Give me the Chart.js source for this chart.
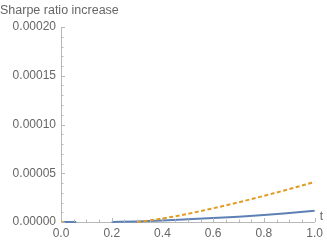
<!DOCTYPE html>
<html>
<head>
<meta charset="utf-8">
<script src="https://cdn.jsdelivr.net/npm/chart.js@4"></script>
<style>
  html, body { margin: 0; padding: 0; background: #fff; }
  #wrap { width: 327px; height: 245px; }
</style>
</head>
<body>
<div id="wrap"><canvas id="chart"></canvas></div>
<script>
const titleText = 'Sharpe ratio increase';
const xLabelText = 't';

const xTicks = [0, 0.2, 0.4, 0.6, 0.8, 1.0];
const yTicks = [0, 0.00005, 0.0001, 0.00015, 0.0002];

// blue solid series (null = gap in the curve)
const blueT = [0, 0.06, 0.13, 0.2, 0.3, 0.4, 0.5, 0.6, 0.7, 0.8, 0.9, 1.0];
const blueY = [0, 0, null, 0, 0.0000006, 0.0000015, 0.0000027, 0.000004, 0.0000055, 0.0000072, 0.0000093, 0.0000115];

// orange dashed series
const orangeT = [0, 0.012, 0.15, 0.3, 0.4, 0.5, 0.6, 0.7, 0.8, 0.9, 1.0];
const orangeY = [0, 0, null, 0, 0.0000036, 0.0000084, 0.0000141, 0.0000202, 0.0000268, 0.0000338, 0.000041];

const axisColor = '#b8b8b8';
const textColor = '#666666';
const fontFamily = '"Liberation Sans", Arial, sans-serif';

function toPoints(xs, ys) {
    return xs.map((x, i) => ({ x: x, y: ys[i] }));
}

// Mathematica-style inward ticks, major + minor
const innerTicks = {
    id: 'innerTicks',
    afterDraw(chart) {
        const { ctx, chartArea, scales } = chart;
        ctx.save();
        ctx.strokeStyle = axisColor;
        ctx.lineWidth = 1;
        ctx.beginPath();
        for (let i = 0; i <= 20; i++) {
            const v = i * 0.05;
            const px = Math.round(scales.x.getPixelForValue(v)) + 0.5;
            const len = (i % 4 === 0) ? 4 : 2.5;
            ctx.moveTo(px, chartArea.bottom);
            ctx.lineTo(px, chartArea.bottom - len);
        }
        for (let i = 0; i <= 20; i++) {
            const v = i * 0.00001;
            const py = Math.round(scales.y.getPixelForValue(v)) + 0.5;
            const len = (i % 5 === 0) ? 4 : 2.5;
            ctx.moveTo(chartArea.left, py);
            ctx.lineTo(chartArea.left + len, py);
        }
        ctx.stroke();

        ctx.fillStyle = textColor;
        ctx.textBaseline = 'middle';
        ctx.textAlign = 'left';
        ctx.font = '12.5px ' + fontFamily;
        ctx.fillText(titleText, 0, 11);
        ctx.font = '12px ' + fontFamily;
        ctx.fillText(xLabelText, chartArea.right + 5, chartArea.bottom - 5);
        ctx.restore();
    }
};

const chart = new Chart(document.getElementById('chart'), {
    type: 'line',
    data: {
        datasets: [
            {
                label: 'blue',
                data: toPoints(blueT, blueY),
                borderColor: '#5E81B5',
                borderWidth: 2,
                pointRadius: 0,
                cubicInterpolationMode: 'monotone',
                spanGaps: false,
                clip: 4,
                order: 1
            },
            {
                label: 'orange',
                data: toPoints(orangeT, orangeY),
                borderColor: '#E19C24',
                borderWidth: 2,
                borderDash: [4, 2.5],
                pointRadius: 0,
                cubicInterpolationMode: 'monotone',
                spanGaps: false,
                clip: 4,
                order: 0
            }
        ]
    },
    options: {
        responsive: true,
        maintainAspectRatio: false,
        animation: false,
        layout: {
            padding: { left: 0, right: 12, top: 27, bottom: 0 }
        },
        scales: {
            x: {
                type: 'linear',
                min: 0,
                max: 1,
                afterFit(scale) { scale.height = 23; },
                afterBuildTicks(scale) { scale.ticks = xTicks.map(v => ({ value: v })); },
                grid: { display: false, drawTicks: false },
                border: { display: true, color: axisColor, width: 1 },
                ticks: {
                    padding: 4,
                    color: textColor,
                    font: { family: fontFamily, size: 12 },
                    maxRotation: 0,
                    callback: v => v.toFixed(1)
                }
            },
            y: {
                type: 'linear',
                min: 0,
                max: 0.0002,
                afterFit(scale) { scale.width = 61; },
                afterBuildTicks(scale) { scale.ticks = yTicks.map(v => ({ value: v })); },
                grid: { display: false, drawTicks: false },
                border: { display: true, color: axisColor, width: 1 },
                ticks: {
                    padding: 5,
                    color: textColor,
                    font: { family: fontFamily, size: 12 },
                    callback: v => v.toFixed(5)
                }
            }
        },
        plugins: {
            legend: { display: false },
            tooltip: { enabled: false }
        }
    },
    plugins: [innerTicks]
});
</script>
</body>
</html>
